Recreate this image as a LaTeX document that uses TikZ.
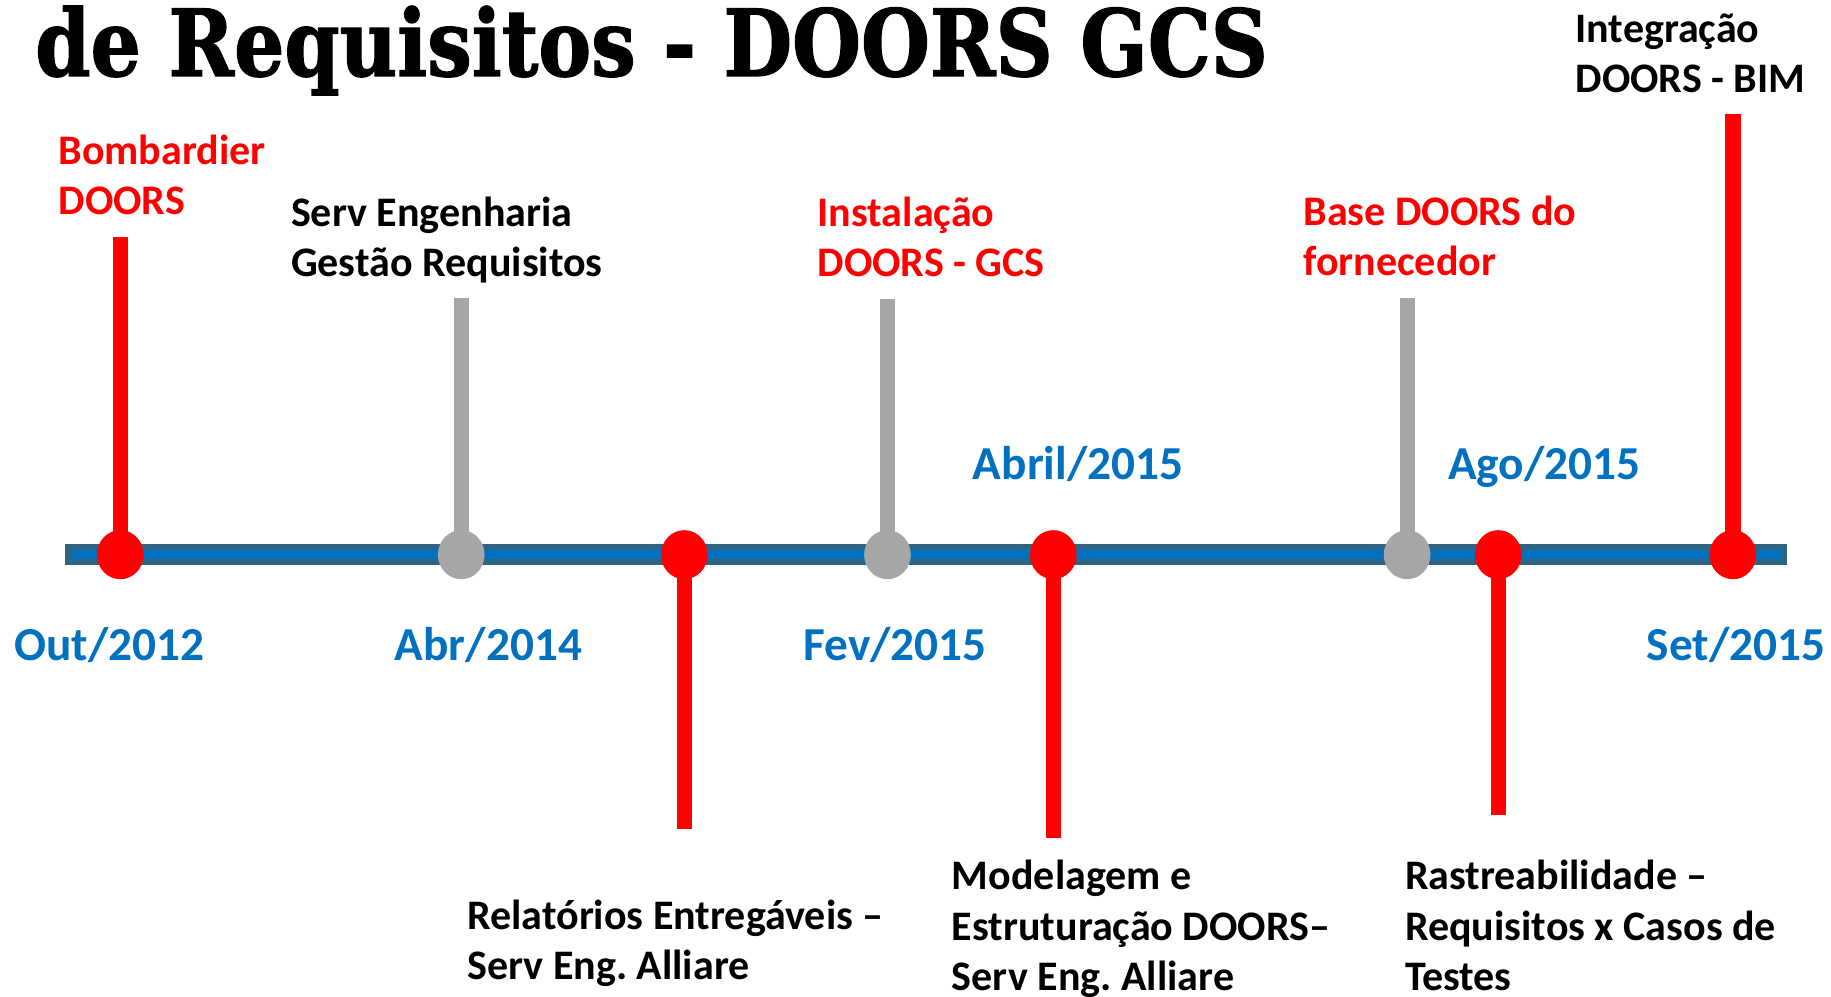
\documentclass[tikz,border=0pt]{standalone}
\usepackage{fontspec}
\setmainfont{Carlito}
\newfontfamily\titlefont[BoldFeatures={FakeBold=1.5}]{DejaVu Serif}
\usetikzlibrary{shapes.geometric}
\frenchspacing

\definecolor{markred}{HTML}{FF0000}
\definecolor{markgray}{HTML}{A6A6A6}
\definecolor{dateblue}{HTML}{0070C0}
\definecolor{bardark}{HTML}{2E6483}

\begin{document}
\begin{tikzpicture}[x=1pt, y=-1pt,
    dot/.style = {ellipse, minimum width=40pt, minimum height=42pt, inner sep=0pt},
    reddot/.style = {dot, fill=markred},
    graydot/.style = {dot, fill=markgray},
    redstem/.style = {line width=13pt, markred},
    graystem/.style = {line width=13pt, markgray},
    event/.style = {anchor=base west, align=left, inner sep=0pt,
      font=\bfseries\fontsize{36}{43}\selectfont},
    date/.style = {anchor=base west, inner sep=0pt, text=dateblue,
      font=\bfseries\fontsize{40.5}{48}\selectfont}]
  \useasboundingbox (0,0) rectangle (1568,853);

  % title
  \node[anchor=base west, inner sep=0pt] (title) at (30,65)
    {\resizebox{1055pt}{60pt}{\titlefont\bfseries de Requisitos - DOORS GCS}};

  % time line
  \coordinate (barL) at (56,475);
  \coordinate (barR) at (1530,475);
  \draw[line width=18pt, bardark] (barL) -- (barR);
  \draw[line width=8pt, dateblue, shorten <=5pt, shorten >=5pt] (barL) -- (barR);

  % stems
  \coordinate (t1) at (103,475);  \coordinate (e1) at (103,203);
  \coordinate (t2) at (395,475);  \coordinate (e2) at (395,255);
  \coordinate (t3) at (586,475);  \coordinate (e3) at (586,710);
  \coordinate (t4) at (760,475);  \coordinate (e4) at (760,256);
  \coordinate (t5) at (902,475);  \coordinate (e5) at (902,718);
  \coordinate (t6) at (1205,475); \coordinate (e6) at (1205,255);
  \coordinate (t7) at (1283,475); \coordinate (e7) at (1283,698);
  \coordinate (t8) at (1484,475); \coordinate (e8) at (1484,98);
  \draw[redstem] (t1) -- (e1);
  \draw[graystem] (t2) -- (e2);
  \draw[redstem] (t3) -- (e3);
  \draw[graystem] (t4) -- (e4);
  \draw[redstem] (t5) -- (e5);
  \draw[graystem] (t6) -- (e6);
  \draw[redstem] (t7) -- (e7);
  \draw[redstem] (t8) -- (e8);

  % dots
  \node[reddot] (d1) at (t1) {};
  \node[graydot] (d2) at (t2) {};
  \node[reddot] (d3) at (t3) {};
  \node[graydot] (d4) at (t4) {};
  \node[reddot] (d5) at (t5) {};
  \node[graydot] (d6) at (t6) {};
  \node[reddot] (d7) at (t7) {};
  \node[reddot] (d8) at (t8) {};

  % events (base = last line)
  \node[event, text=markred] (bombardier) at (50,184) {Bombardier\\DOORS};
  \node[event] (servico) at (249,237) {Serv Engenharia\\Gestão Requisitos};
  \node[event] (relatorios) at (400,839) {Relatórios Entregáveis –\\Serv Eng. Alliare};
  \node[event, text=markred] (instalacao) at (700,237) {Instalação\\DOORS - GCS};
  \node[event] (modelagem) at (815,848) {Modelagem e\\Estruturação DOORS–\\Serv Eng. Alliare};
  \node[event, text=markred] (base) at (1116,236) {Base DOORS do\\fornecedor};
  \node[event] (rastreabilidade) at (1203,848) {Rastreabilidade –\\Requisitos x Casos de\\Testes};
  \node[event] (integracao) at (1349,79) {Integração\\DOORS - BIM};

  % dates
  \node[date] (out12) at (12,566) {Out/2012};
  \node[date] (abr14) at (338,566) {Abr/2014};
  \node[date] (fev15) at (688,566) {Fev/2015};
  \node[date] (abr15) at (833,411) {Abril/2015};
  \node[date] (ago15) at (1240,411) {Ago/2015};
  \node[date] (set15) at (1410,566) {Set/2015};
\end{tikzpicture}
\end{document}
